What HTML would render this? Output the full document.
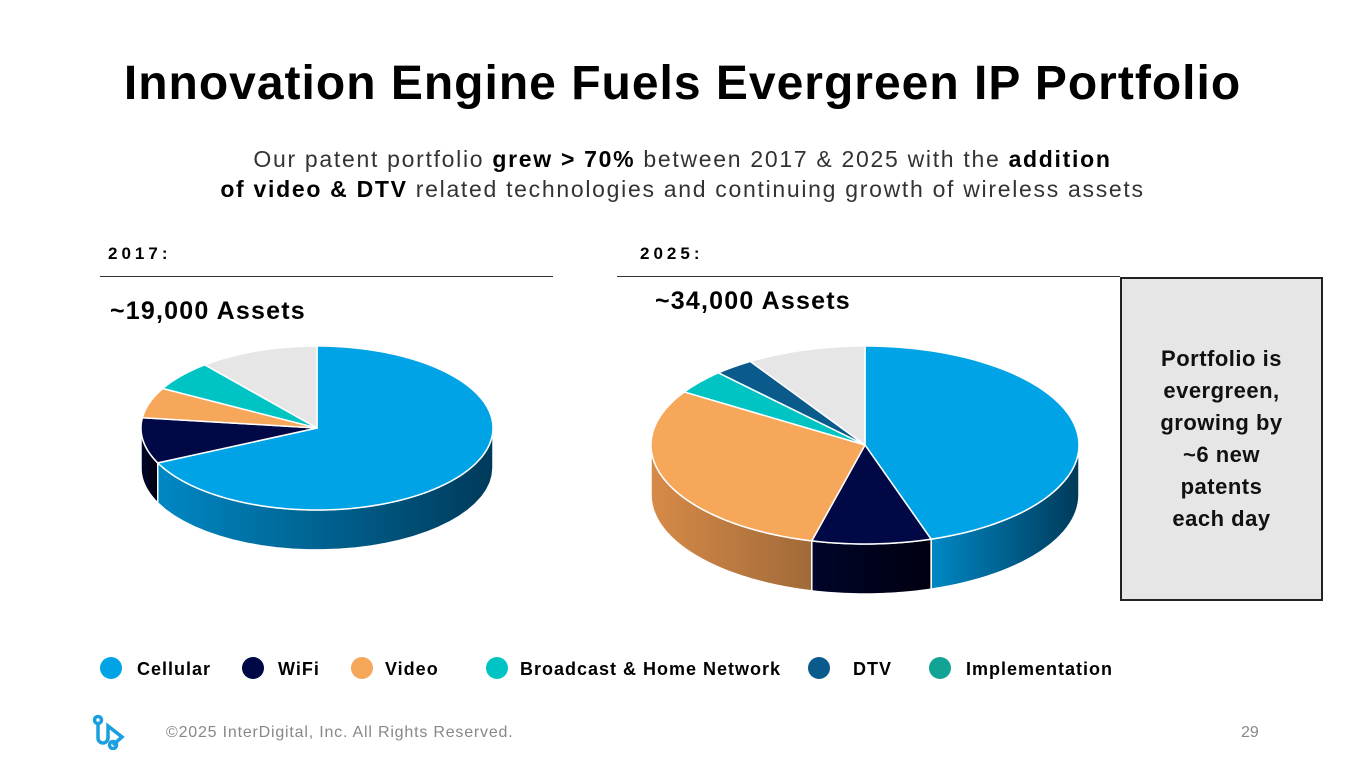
<!DOCTYPE html>
<html><head><meta charset="utf-8"><style>
body{margin:0;width:1365px;height:768px;background:#fff;position:relative;overflow:hidden;font-family:"Liberation Sans",sans-serif;color:#000}
.a{position:absolute}
</style></head><body>
<div class="a" style="left:0;width:1365px;top:56px;text-align:center;font-size:48px;letter-spacing:1px;font-weight:bold">Innovation Engine Fuels Evergreen IP Portfolio</div>
<div class="a" style="left:0;width:1365px;top:144px;text-align:center;font-size:23px;letter-spacing:1.7px;line-height:30px;color:#333">Our patent portfolio <b style="color:#000">grew &gt; 70%</b> between 2017 &amp; 2025 with the <b style="color:#000">addition<br>of video &amp; DTV</b> related technologies and continuing growth of wireless assets</div>
<div class="a" style="left:108px;top:244px;font-size:17px;font-weight:bold;letter-spacing:4px">2017:</div>
<div class="a" style="left:640px;top:244px;font-size:17px;font-weight:bold;letter-spacing:4px">2025:</div>
<div class="a" style="left:100px;top:276px;width:453px;height:1px;background:#333"></div>
<div class="a" style="left:617px;top:276px;width:503px;height:1px;background:#333"></div>
<div class="a" style="left:110px;top:297px;font-size:25px;letter-spacing:1.2px;font-weight:bold">~19,000 Assets</div>
<div class="a" style="left:655px;top:287px;font-size:25px;letter-spacing:1.2px;font-weight:bold">~34,000 Assets</div>
<div class="a" style="left:1120px;top:277px;width:199px;height:320px;background:#e6e6e6;border:2px solid #222;display:flex;align-items:center;justify-content:center;text-align:center;font-size:22px;letter-spacing:0.5px;font-weight:bold;line-height:32px;color:#111">Portfolio is<br>evergreen,<br>growing by<br>~6 new<br>patents<br>each day</div>
<svg class="a" style="left:0;top:0" width="1365" height="768" id="pies"></svg>
<div class="a" style="left:0;top:655px;width:1365px;height:26px;font-size:18px;letter-spacing:1px;font-weight:bold">
<span class="a" style="left:100px;top:2px"><i style="position:absolute;left:0;top:0;width:22px;height:22px;border-radius:50%;background:#00a3e6"></i><span style="position:absolute;left:37px;top:2px">Cellular</span></span>
<span class="a" style="left:242px;top:2px"><i style="position:absolute;left:0;top:0;width:22px;height:22px;border-radius:50%;background:#000845"></i><span style="position:absolute;left:36px;top:2px">WiFi</span></span>
<span class="a" style="left:351px;top:2px"><i style="position:absolute;left:0;top:0;width:22px;height:22px;border-radius:50%;background:#f7a75a"></i><span style="position:absolute;left:34px;top:2px">Video</span></span>
<span class="a" style="left:486px;top:2px"><i style="position:absolute;left:0;top:0;width:22px;height:22px;border-radius:50%;background:#00c4c4"></i><span style="position:absolute;left:34px;top:2px;white-space:nowrap">Broadcast &amp; Home Network</span></span>
<span class="a" style="left:808px;top:2px"><i style="position:absolute;left:0;top:0;width:22px;height:22px;border-radius:50%;background:#0a5b8c"></i><span style="position:absolute;left:45px;top:2px">DTV</span></span>
<span class="a" style="left:929px;top:2px"><i style="position:absolute;left:0;top:0;width:22px;height:22px;border-radius:50%;background:#12a394"></i><span style="position:absolute;left:37px;top:2px">Implementation</span></span>
</div>
<svg class="a" style="left:93px;top:714px" width="40" height="36" fill="none" stroke="#1aa0e0" stroke-width="3.5" stroke-linecap="round"><circle cx="5" cy="6" r="3.5"/><path d="M5 10v14a5 5 0 0 0 10 0"/><path d="M15 24V12l14 11l-8 7"/><circle cx="20" cy="31" r="3.5"/></svg>
<div class="a" style="left:166px;top:724px;font-size:16px;letter-spacing:0.8px;color:#888">©2025 InterDigital, Inc. All Rights Reserved.</div>
<div class="a" style="left:1241px;top:724px;font-size:16px;color:#888">29</div>
<script>
const categories=["Cellular","WiFi","Video","Broadcast & Home Network","DTV","Other"];
const values2017=[68,9,6,6,0,11];
const values2025=[45,9,30,4,3,9];
const colors=["#00a3e6","#000845","#f7a75a","#00c4c4","#0a5b8c","#e6e6e6"];
const sides=[["#0088c4","#003a5a"],["#00052a","#000010"],["#d78a48","#a06a38"],["#00a0a0","#006d6d"],["#084a70","#042a40"],["#bbb","#888"]];
const svg=document.getElementById('pies');
const NS="http://www.w3.org/2000/svg";
let gid=0;
function pie(vals,cx,cy,rx,ry,depth,name){
  const tot=vals.reduce((a,b)=>a+b,0);
  const P=(t,dy)=>[cx+rx*Math.sin(t),cy-ry*Math.cos(t)+(dy||0)];
  let a=0;const segs=[];
  vals.forEach((v,i)=>{const b=a+v/tot*2*Math.PI;segs.push([a,b,i]);a=b;});
  segs.forEach(([s,e,i])=>{
    const lo=Math.max(s,Math.PI/2),hi=Math.min(e,3*Math.PI/2);
    if(hi<=lo)return;
    const id='g'+(gid++);
    const g=document.createElementNS(NS,'linearGradient');g.setAttribute('id',id);
    g.setAttribute('gradientUnits','userSpaceOnUse');g.setAttribute('x1',P(hi)[0]);g.setAttribute('x2',P(lo)[0]);g.setAttribute('y1',0);g.setAttribute('y2',0);
    g.innerHTML=`<stop offset="0" stop-color="${sides[i][0]}"/><stop offset="1" stop-color="${sides[i][1]}"/>`;
    svg.appendChild(g);
    let d='M'+P(lo);const n=30;
    for(let k=1;k<=n;k++)d+='L'+P(lo+(hi-lo)*k/n);
    for(let k=n;k>=0;k--)d+='L'+P(lo+(hi-lo)*k/n,depth);
    d+='Z';
    const p=document.createElementNS(NS,'path');p.setAttribute('d',d);p.setAttribute('fill','url(#'+id+')');p.setAttribute('stroke','#fff');p.setAttribute('stroke-width','1.5');
    
    
    svg.appendChild(p);
  });
  segs.forEach(([s,e,i])=>{
    if(e-s<=0)return;
    let d='M'+cx+','+cy+'L'+P(s);const n=Math.max(4,Math.ceil((e-s)*30));
    for(let k=1;k<=n;k++)d+='L'+P(s+(e-s)*k/n);
    d+='Z';
    const p=document.createElementNS(NS,'path');p.setAttribute('d',d);p.setAttribute('fill',colors[i]);p.setAttribute('stroke','#fff');p.setAttribute('stroke-width','1.5');
    
    
    svg.appendChild(p);
  });
}
pie(values2017,317,428,176,82,40,'pie-2017');
pie(values2025,865,445,214,99,50,'pie-2025');
</script>
</body></html>
